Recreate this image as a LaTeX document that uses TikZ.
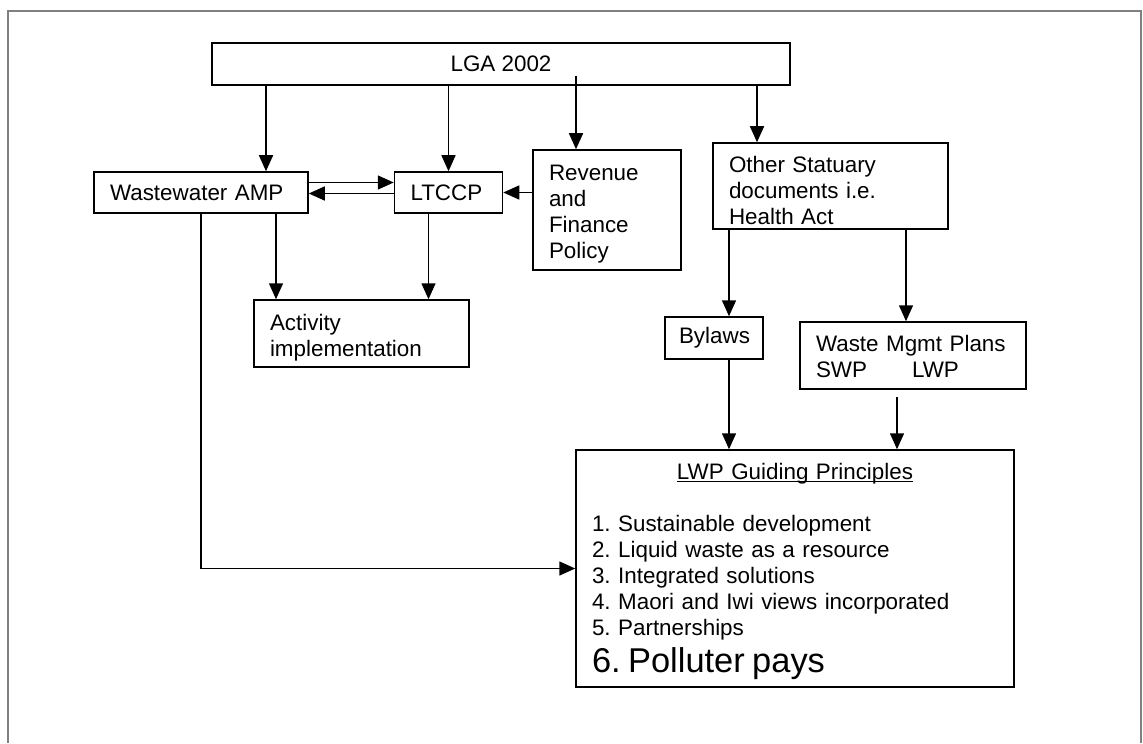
\documentclass[tikz,border=0pt]{standalone}
\usepackage{fontspec}
\setmainfont{Liberation Sans}
\usepackage{tikz}
\usetikzlibrary{arrows.meta, positioning}
\frenchspacing
\newcommand{\ulbox}[1]{\setbox0=\hbox{#1}\rlap{\rule[-1.4pt]{\wd0}{0.6pt}}\box0}
\tikzset{
	box/.style={rectangle, draw, line width=0.75pt, inner xsep=8pt, inner ysep=0pt,
		align=left, font=\fontsize{11.2}{13}\selectfont},
	arr/.style={-{Triangle[length=8pt, width=7pt]}, line width=0.75pt},
	pageframe/.style={draw=black!50, line width=0.8pt},
}

\begin{document}
\begin{tikzpicture}[x=0.5pt, y=-0.5pt]
	\useasboundingbox (0,0) rectangle (1143,743);
	\draw[pageframe] (8,743) |- (1141,11) -- (1141,743);

	\node[box, align=center, minimum width=289pt, minimum height=21pt] (lga) at (501,64) {LGA 2002};
	\node[box, text width=91pt, minimum height=20.5pt] (amp) at (201,192.5) {Wastewater AMP};
	\node[box, text width=38pt, minimum height=20.5pt, right=42.5pt of amp] (ltccp) {LTCCP};
	\node[box, text width=58pt, text height=12pt, minimum height=60pt] (rev) at (607,210) {Revenue\\ and\\ Finance\\ Policy};
	\node[box, text width=101.5pt, text height=13pt, minimum height=43pt] (other) at (830.5,186) {Other Statuary\\ documents i.e.\\ Health Act};
	\node[box, text width=91.5pt, text height=12pt, minimum height=33.5pt] (act) at (361.5,333.5) {Activity\\ implementation};
	\node[box, inner xsep=7pt, text width=35pt, minimum height=21pt] (bylaws) at (714,338) {Bylaws};
	\node[box, text width=97pt, text height=9pt, minimum height=33.5pt] (waste) at (913,355.5) {Waste Mgmt Plans\\ SWP\hspace{22.5pt}LWP};
	\node[box, text width=203pt, text height=11pt, minimum height=118.5pt] (lwp) at (795,568.5) {%
		{\centering\ulbox{LWP Guiding Principles}\par}\vspace{13pt}
		1. Sustainable development\\
		2. Liquid waste as a resource\\
		3. Integrated solutions\\
		4. Maori and Iwi views incorporated\\
		5. Partnerships\par
		{\fontsize{17.2}{18.5}\selectfont 6. Polluter pays\par}};

	\draw[arr] ([xshift=32.5pt]amp.north |- lga.south) -- ([xshift=32.5pt]amp.north);
	\draw[arr] (ltccp.north |- lga.south) -- (ltccp.north);
	\draw[arr] ([xshift=-15.5pt, yshift=5pt]rev.north |- lga.south) -- ([xshift=-15.5pt]rev.north);
	\draw[arr] ([xshift=-36.75pt]other.north |- lga.south) -- ([xshift=-36.75pt]other.north);
	\draw[arr] ([yshift=5pt]amp.east) -- ([yshift=5pt]ltccp.west);
	\draw[arr] ([yshift=-0.5pt]ltccp.west) -- ([yshift=-0.5pt]amp.east);
	\draw[arr] (rev.west |- ltccp.east) -- (ltccp.east);
	\draw[arr] ([xshift=37.5pt]amp.south) -- ([xshift=37.5pt]amp.south |- act.north);
	\draw[arr] ([xshift=-10pt]ltccp.south) -- ([xshift=-10pt]ltccp.south |- act.north);
	\draw[arr] (amp.south) |- (lwp.west);
	\draw[arr] ([xshift=7.5pt]bylaws.north |- other.south) -- ([xshift=7.5pt]bylaws.north);
	\draw[arr] ([xshift=-3.5pt]waste.north |- other.south) -- ([xshift=-3.5pt]waste.north);
	\draw[arr] ([xshift=7.5pt]bylaws.south) -- ([xshift=7.5pt]bylaws.south |- lwp.north);
	\draw[arr] ([xshift=-8pt, yshift=-3.5pt]waste.south) -- ([xshift=-8pt]waste.south |- lwp.north);
\end{tikzpicture}
\end{document}
